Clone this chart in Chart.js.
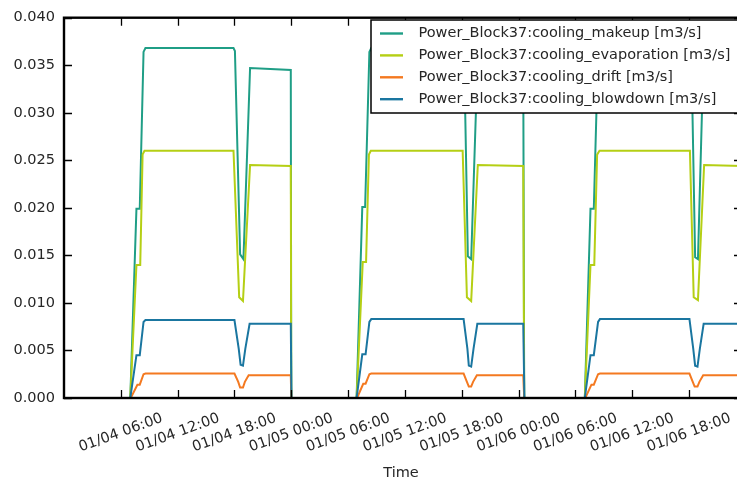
<!DOCTYPE html>
<html>
<head>
<meta charset="utf-8">
<script src="https://cdn.jsdelivr.net/npm/chart.js@4.4.1/dist/chart.umd.min.js"></script>
<style>
  html, body { margin: 0; padding: 0; background: #fff; overflow: hidden; }
  #wrap { position: relative; width: 744px; height: 482px; }
</style>
</head>
<body>
<div id="wrap"><canvas id="chart"></canvas></div>
<script>
// hours since 01/04 00:00
const tickHours = [6, 12, 18, 24, 30, 36, 42, 48, 54, 60, 66];
const tickLabels = ['01/04 06:00', '01/04 12:00', '01/04 18:00', '01/05 00:00', '01/05 06:00', '01/05 12:00',
                    '01/05 18:00', '01/06 00:00', '01/06 06:00', '01/06 12:00', '01/06 18:00'];

const seriesNames = ['Power_Block37:cooling_makeup [m3/s]', 'Power_Block37:cooling_evaporation [m3/s]',
                     'Power_Block37:cooling_drift [m3/s]', 'Power_Block37:cooling_blowdown [m3/s]'];
const seriesColors = ['#1f9e86', '#b5cf14', '#f47920', '#1a76a0'];

const makeupTimes = [0, 7.0, 7.65, 8.0, 8.4, 8.6, 17.9, 18.05, 18.6, 18.95, 19.65, 23.95, 24.0,
                     30.9, 31.5, 31.8, 32.25, 32.45, 42.1, 42.25, 42.65, 43.0, 43.65, 48.5, 48.6,
                     55.0, 55.6, 55.95, 56.4, 56.6, 66.1, 66.25, 66.65, 66.95, 67.5, 71.6];
const makeupValues = [0, 0, 0.0199, 0.0199, 0.0364, 0.0368, 0.0368, 0.0365, 0.0151, 0.0146, 0.0347, 0.0345, 0,
                      0, 0.0201, 0.0201, 0.0364, 0.0368, 0.0368, 0.0365, 0.0149, 0.0146, 0.0347, 0.0345, 0,
                      0, 0.0199, 0.0199, 0.0364, 0.0368, 0.0368, 0.0365, 0.0148, 0.0146, 0.0347, 0.0346];

const evapTimes = [0, 7.0, 7.65, 8.05, 8.3, 8.5, 17.9, 18.5, 18.9, 19.65, 23.95, 24.0,
                   30.9, 31.55, 31.9, 32.2, 32.4, 42.1, 42.55, 43.0, 43.7, 48.5, 48.6,
                   55.0, 55.6, 56.0, 56.3, 56.55, 66.1, 66.5, 66.95, 67.6, 71.6];
const evapValues = [0, 0, 0.0140, 0.0140, 0.0256, 0.0260, 0.0260, 0.0106, 0.0102, 0.0245, 0.0244, 0,
                    0, 0.0143, 0.0143, 0.0256, 0.0260, 0.0260, 0.0106, 0.0102, 0.0245, 0.0244, 0,
                    0, 0.0140, 0.0140, 0.0256, 0.0260, 0.0260, 0.0106, 0.0103, 0.0245, 0.0244];

const driftTimes = [0, 7.05, 7.75, 8.0, 8.4, 8.6, 18.0, 18.4, 18.6, 18.9, 19.1, 19.5, 23.95, 24.0,
                    30.95, 31.6, 31.85, 32.25, 32.45, 42.2, 42.55, 42.75, 43.0, 43.2, 43.6, 48.5, 48.6,
                    55.05, 55.7, 55.95, 56.4, 56.6, 66.05, 66.4, 66.6, 66.9, 67.1, 67.5, 71.6];
const driftValues = [0, 0, 0.0014, 0.0014, 0.0025, 0.00257, 0.00257, 0.0017, 0.0011, 0.0011, 0.0017, 0.0024, 0.0024, 0,
                     0, 0.0015, 0.0015, 0.0025, 0.00257, 0.00257, 0.0017, 0.0012, 0.0012, 0.0017, 0.0024, 0.0024, 0,
                     0, 0.0014, 0.0014, 0.0025, 0.00257, 0.00257, 0.0017, 0.0012, 0.0012, 0.0017, 0.0024, 0.0024];

const blowTimes = [0, 7.0, 7.65, 8.0, 8.4, 8.6, 18.0, 18.45, 18.65, 18.9, 19.15, 19.6, 23.95, 24.02,
                   30.9, 31.5, 31.85, 32.25, 32.45, 42.2, 42.6, 42.75, 43.0, 43.25, 43.65, 48.5, 48.62,
                   55.0, 55.6, 55.95, 56.4, 56.6, 66.05, 66.45, 66.65, 66.9, 67.15, 67.55, 71.6];
const blowValues = [0, 0, 0.0045, 0.0045, 0.0080, 0.0082, 0.0082, 0.0052, 0.0035, 0.0034, 0.0052, 0.0078, 0.0078, 0,
                    0, 0.0046, 0.0046, 0.0080, 0.0083, 0.0083, 0.0052, 0.0034, 0.0033, 0.0052, 0.0078, 0.0078, 0,
                    0, 0.0045, 0.0045, 0.0080, 0.0083, 0.0083, 0.0052, 0.0034, 0.0033, 0.0052, 0.0078, 0.0078];

const pairs = (ts, vs) => ts.map((t, i) => ({x: t, y: vs[i]}));

const FONT = '14.5px "DejaVu Sans"';
Chart.defaults.font.family = '"DejaVu Sans", sans-serif';

// frame, inward ticks, rotated x labels and the boxed legend (matplotlib look)
const frame = {
    id: 'frame',
    afterDraw(chart) {
        const {ctx, chartArea: a, scales: {x, y}} = chart;
        ctx.save();
        ctx.strokeStyle = '#000';
        ctx.lineWidth = 1.3;
        ctx.beginPath();
        tickHours.forEach(h => {
            const px = Math.round(x.getPixelForValue(h)) + 0.5;
            ctx.moveTo(px, a.bottom); ctx.lineTo(px, a.bottom - 8);
            ctx.moveTo(px, a.top); ctx.lineTo(px, a.top + 8);
        });
        y.ticks.forEach(t => {
            const py = Math.round(y.getPixelForValue(t.value)) + 0.5;
            ctx.moveTo(a.left, py); ctx.lineTo(a.left + 8, py);
            ctx.moveTo(a.right, py); ctx.lineTo(a.right - 8, py);
        });
        ctx.stroke();
        ctx.lineWidth = 2.4;
        ctx.strokeRect(a.left, a.top, a.right - a.left, a.bottom - a.top);

        ctx.fillStyle = '#262626';
        ctx.font = FONT;
        ctx.textAlign = 'center';
        ctx.textBaseline = 'middle';
        tickHours.forEach((h, i) => {
            ctx.save();
            ctx.translate(x.getPixelForValue(h), a.bottom + 35);
            ctx.rotate(-20 * Math.PI / 180);
            ctx.fillText(tickLabels[i], 0, 0);
            ctx.restore();
        });
        ctx.fillText('Time', 401, 473);

        // legend box
        const lx = 371, ly = 20, lw = 368, lh = 93;
        ctx.fillStyle = '#fff';
        ctx.fillRect(lx, ly, lw, lh);
        ctx.lineWidth = 1.5;
        ctx.strokeRect(lx, ly, lw, lh);
        ctx.textAlign = 'left';
        seriesNames.forEach((name, i) => {
            const ry = 33.5 + i * 21.9;
            ctx.strokeStyle = seriesColors[i];
            ctx.lineWidth = 2.4;
            ctx.beginPath();
            ctx.moveTo(380, ry); ctx.lineTo(403, ry);
            ctx.stroke();
            ctx.fillStyle = '#262626';
            ctx.fillText(name, 418.5, ry);
        });
        ctx.restore();
    }
};

const ds = (i, ts, vs, order) => ({
    label: seriesNames[i],
    data: pairs(ts, vs),
    borderColor: seriesColors[i],
    backgroundColor: seriesColors[i],
    borderWidth: 2,
    pointRadius: 0,
    tension: 0,
    fill: false,
    clip: 0,
    order
});

new Chart(document.getElementById('chart'), {
    type: 'line',
    data: {
        datasets: [
            ds(0, makeupTimes, makeupValues, 4),
            ds(1, evapTimes, evapValues, 3),
            ds(2, driftTimes, driftValues, 2),
            ds(3, blowTimes, blowValues, 1)
        ]
    },
    options: {
        responsive: true,
        maintainAspectRatio: false,
        animation: false,
        layout: {padding: {top: 14, right: 2, left: 0, bottom: 0}},
        scales: {
            x: {
                type: 'linear', min: 0, max: 71.6,
                grid: {display: false}, border: {display: false},
                ticks: {display: false},
                afterFit: s => { s.height = 84; }
            },
            y: {
                min: 0, max: 0.04,
                grid: {display: false, drawTicks: false}, border: {display: false},
                ticks: {stepSize: 0.005, padding: 9, color: '#262626', font: {size: 14.5},
                        callback: v => v.toFixed(3)},
                afterFit: s => { s.width = 64; }
            }
        },
        plugins: {legend: {display: false}, tooltip: {enabled: false}}
    },
    plugins: [frame]
});
</script>
</body>
</html>
